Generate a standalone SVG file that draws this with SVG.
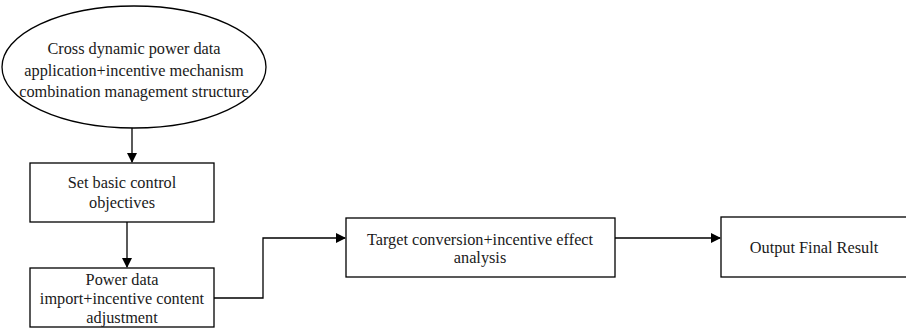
<svg xmlns="http://www.w3.org/2000/svg" width="906" height="329" viewBox="0 0 906 329">
<defs>
<marker id="ah" markerWidth="10" markerHeight="10" refX="9" refY="5" orient="auto" markerUnits="userSpaceOnUse">
<path d="M0,0 L10,5 L0,10 z" fill="#000"/>
</marker>
<style>
.n{fill:#fff;stroke:#000;stroke-width:1.3}
.t{font-family:"Liberation Serif","Times New Roman",serif;font-size:16.3px;fill:#1a1a1a;text-anchor:middle}
.c{fill:none;stroke:#000;stroke-width:1.3}
</style>
</defs>
<rect width="906" height="329" fill="#fff"/>
<g id="connectors">
<path class="c" d="M132,128 V162" marker-end="url(#ah)"/>
<path class="c" d="M127,222 V267" marker-end="url(#ah)"/>
<path class="c" d="M214,298 H263 V238 H345" marker-end="url(#ah)"/>
<path class="c" d="M615,238 H720" marker-end="url(#ah)"/>
</g>
<g id="n1">
<ellipse class="n" cx="134" cy="67" rx="132" ry="61"/>
<text class="t" x="134" y="54">Cross dynamic power data</text>
<text class="t" x="134" y="76">application+incentive mechanism</text>
<text class="t" x="134" y="97">combination management structure</text>
</g>
<g id="n2">
<rect class="n" x="30" y="163" width="184" height="59"/>
<text class="t" x="122" y="188">Set basic control</text>
<text class="t" x="122" y="208">objectives</text>
</g>
<g id="n3">
<rect class="n" x="30" y="268" width="184" height="59"/>
<text class="t" x="122" y="285">Power data</text>
<text class="t" x="122" y="304">import+incentive content</text>
<text class="t" x="122" y="323">adjustment</text>
</g>
<g id="n4">
<rect class="n" x="346" y="218" width="269" height="59"/>
<text class="t" x="480" y="245">Target conversion+incentive effect</text>
<text class="t" x="480" y="263">analysis</text>
</g>
<g id="n5">
<rect class="n" x="721" y="217" width="200" height="60"/>
<text class="t" x="814" y="253">Output Final Result</text>
</g>
</svg>
